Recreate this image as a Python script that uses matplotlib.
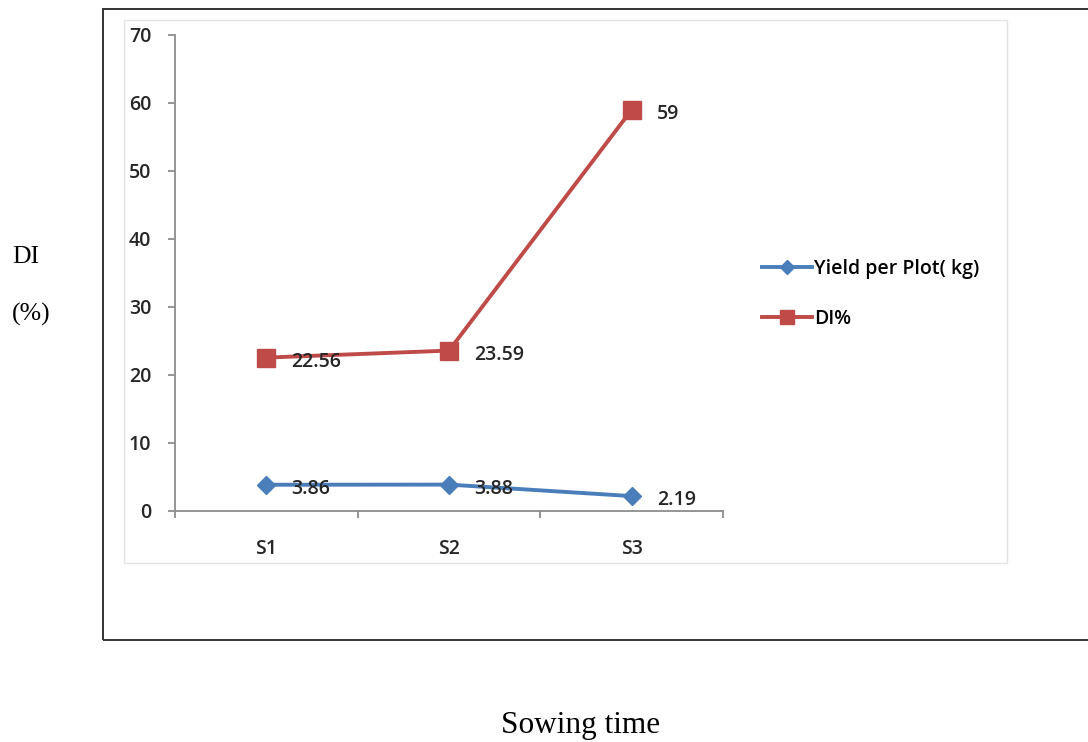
import matplotlib
matplotlib.use("Agg")
import matplotlib.pyplot as plt
from matplotlib.patches import Rectangle
from matplotlib.lines import Line2D

# Data
categories = ["S1", "S2", "S3"]
yield_per_plot = [3.86, 3.88, 2.19]
di_percent = [22.56, 23.59, 59]
yticks = [0, 10, 20, 30, 40, 50, 60, 70]

W, H = 1088, 742
fig = plt.figure(figsize=(W / 100, H / 100), dpi=100)
fig.patch.set_facecolor("white")

def fx(px):
    return px / W

def fy(py):
    return 1 - py / H

# Outer frame
fig.add_artist(Rectangle((fx(103), fy(640)), fx(1100) - fx(103), fy(9) - fy(640),
                         transform=fig.transFigure, fill=False,
                         edgecolor="#333333", linewidth=1.4, zorder=0))
# Chart area
fig.add_artist(Rectangle((fx(124), fy(563)), fx(1007) - fx(124), fy(20) - fy(563),
                         transform=fig.transFigure, facecolor="white",
                         edgecolor="#E3E3E3", linewidth=1.0, zorder=0))

ax = fig.add_axes([fx(175), fy(511), fx(723) - fx(175), fy(35) - fy(511)])
ax.set_facecolor("none")

x = [1, 2, 3]
font = "Open Sans"
fs = 14
fw = "semibold"
txt = "#262626"
blue = "#4A7EBB"
red = "#BE4B48"

ax.plot(x, yield_per_plot, color=blue, linewidth=2.8, marker="D",
        markersize=9.5, label="Yield per Plot( kg)", zorder=3)
ax.plot(x, di_percent, color=red, linewidth=2.8, marker="s",
        markersize=12.5, label="DI%", zorder=3)

for series in (yield_per_plot, di_percent):
    for xi, v in zip(x, series):
        ax.annotate(f"{v:g}", (xi, v), xytext=(18, -3), textcoords="offset points",
                    ha="left", va="center", fontsize=fs, fontfamily=font,
                    fontweight=fw, color=txt, zorder=4)

ax.set_xlim(0.5, 3.5)
ax.set_ylim(0, 70)
ax.set_yticks(yticks)
ax.set_yticklabels([str(t) for t in yticks], fontsize=fs, fontfamily=font,
                   fontweight=fw, color=txt)
ax.set_xticks([0.5, 1.5, 2.5, 3.5])
ax.set_xticklabels([])
ax.set_xticks(x, minor=True)
ax.set_xticklabels(categories, minor=True, fontsize=fs, fontfamily=font,
                   fontweight=fw, color=txt)
ax.tick_params(axis="x", which="minor", length=0, pad=20)
ax.tick_params(axis="x", which="major", length=5, color="#8C8C8C", width=1.3)
ax.tick_params(axis="y", length=5, color="#8C8C8C", width=1.3, pad=12)

for s in ["top", "right"]:
    ax.spines[s].set_visible(False)
for s in ["left", "bottom"]:
    ax.spines[s].set_color("#8C8C8C")
    ax.spines[s].set_linewidth(1.3)

# Legend
handles = [
    Line2D([], [], color=blue, linewidth=2.8, marker="D", markersize=7.5),
    Line2D([], [], color=red, linewidth=2.8, marker="s", markersize=10),
]
fig.legend(handles, ["Yield per Plot( kg)", "DI%"],
           loc="center left", bbox_to_anchor=(fx(744), fy(294)),
           frameon=False, handlelength=2.6, handletextpad=0.1,
           labelspacing=1.55,
           prop={"family": font, "size": fs, "weight": fw})

# Axis titles
serif = "Liberation Serif"
fig.text(fx(12), fy(257), "DI", fontsize=18.5, fontfamily=serif, ha="left", va="center")
fig.text(fx(12), fy(314), "(%)", fontsize=18.5, fontfamily=serif, ha="left", va="center")
fig.text(fx(581), fy(725), "Sowing time", fontsize=22.5, fontfamily=serif, ha="center", va="center")

fig.savefig("out.png", dpi=100)
